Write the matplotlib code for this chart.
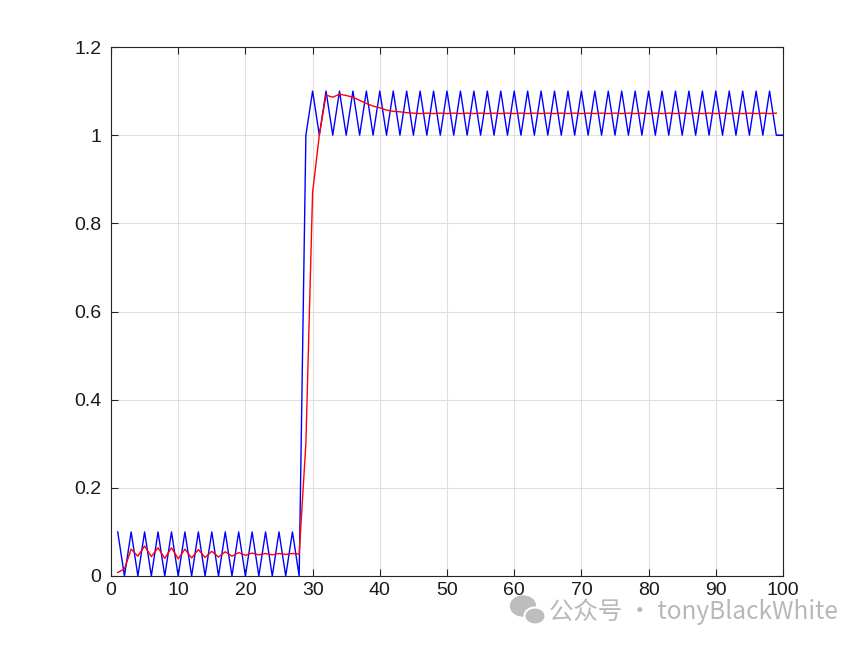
import numpy as np
import matplotlib
matplotlib.use('Agg')
import matplotlib.pyplot as plt
from matplotlib.patches import Ellipse

# measured signal (blue), samples 1..100
x_meas = list(range(1, 101))
meas = [0.1, 0, 0.1, 0, 0.1, 0, 0.1, 0, 0.1, 0, 0.1, 0, 0.1, 0,
        0.1, 0, 0.1, 0, 0.1, 0, 0.1, 0, 0.1, 0, 0.1, 0, 0.1, 0,
        1.0, 1.1, 1.0, 1.1, 1.0, 1.1, 1.0, 1.1, 1.0, 1.1, 1.0, 1.1,
        1.0, 1.1, 1.0, 1.1, 1.0, 1.1, 1.0, 1.1, 1.0, 1.1, 1.0, 1.1,
        1.0, 1.1, 1.0, 1.1, 1.0, 1.1, 1.0, 1.1, 1.0, 1.1, 1.0, 1.1,
        1.0, 1.1, 1.0, 1.1, 1.0, 1.1, 1.0, 1.1, 1.0, 1.1, 1.0, 1.1,
        1.0, 1.1, 1.0, 1.1, 1.0, 1.1, 1.0, 1.1, 1.0, 1.1, 1.0, 1.1,
        1.0, 1.1, 1.0, 1.1, 1.0, 1.1, 1.0, 1.1, 1.0, 1.1, 1.0, 1.0]

# filtered estimate (red), samples 1..99
x_filt = list(range(1, 100))
filt = [0.008, 0.016, 0.061, 0.045, 0.068, 0.044, 0.064, 0.040, 0.064, 0.039,
        0.061, 0.041, 0.060, 0.042, 0.056, 0.043, 0.055, 0.045, 0.053, 0.047,
        0.052, 0.048, 0.051, 0.048, 0.051, 0.049, 0.051, 0.050,
        0.30, 0.87, 1.00, 1.091, 1.086, 1.093, 1.090, 1.086, 1.079, 1.072,
        1.066, 1.062, 1.057, 1.054, 1.053, 1.051, 1.050,
        1.049, 1.050, 1.049, 1.050, 1.049, 1.050, 1.049, 1.050, 1.049, 1.050,
        1.049, 1.050, 1.049, 1.050, 1.049, 1.050, 1.049, 1.050, 1.049, 1.050,
        1.049, 1.050, 1.049, 1.050, 1.049, 1.050, 1.049, 1.050, 1.049, 1.050,
        1.049, 1.050, 1.049, 1.050, 1.049, 1.050, 1.049, 1.050, 1.049, 1.050,
        1.049, 1.050, 1.049, 1.050, 1.049, 1.050, 1.049, 1.050, 1.049, 1.050,
        1.049, 1.050, 1.049, 1.050]

xticks = [0, 10, 20, 30, 40, 50, 60, 70, 80, 90, 100]
yticks = [0, 0.2, 0.4, 0.6, 0.8, 1.0, 1.2]
ylabels = ['0', '0.2', '0.4', '0.6', '0.8', '1', '1.2']

plt.rcParams['font.family'] = ['Liberation Sans', 'DejaVu Sans']

fig = plt.figure(figsize=(8.65, 6.48), dpi=100)
ax = fig.add_axes([111 / 865, 72 / 648, 672 / 865, 529 / 648])

ax.plot(x_meas, meas, color='#0000ff', lw=1.0)
ax.plot(x_filt, filt, color='#ff0000', lw=1.0)

ax.set_xlim(0, 100)
ax.set_ylim(0, 1.2)
ax.set_xticks(xticks)
ax.set_yticks(yticks)
ax.set_yticklabels(ylabels)
ax.grid(True, color='#e0e0e0', lw=0.8)
ax.set_axisbelow(True)
ax.tick_params(direction='in', top=True, right=True, length=5, width=0.8,
               color='#262626', labelsize=14, labelcolor='#1a1a1a')
ax.tick_params(axis='y', pad=7)
ax.tick_params(axis='x', pad=4)
for s in ax.spines.values():
    s.set_color('#262626')
    s.set_linewidth(0.8)

# watermark
def fx(px):
    return px / 865

def fy(py):
    return 1 - py / 648

fig.add_artist(Ellipse((fx(523), fy(606)), 25 / 865, 20 / 648,
                       transform=fig.transFigure, color='#bdbdbd'))
fig.add_artist(Ellipse((fx(535), fy(616)), 21 / 865, 17 / 648,
                       transform=fig.transFigure, facecolor='#bdbdbd',
                       edgecolor='white', lw=1.5))
fig.text(fx(549), fy(612), '公众号 · tonyBlackWhite', fontsize=17.6,
         color='#b8b8b8', va='center', ha='left',
         family=['Noto Sans CJK SC', 'DejaVu Sans'])

fig.savefig('out.png', dpi=100)
